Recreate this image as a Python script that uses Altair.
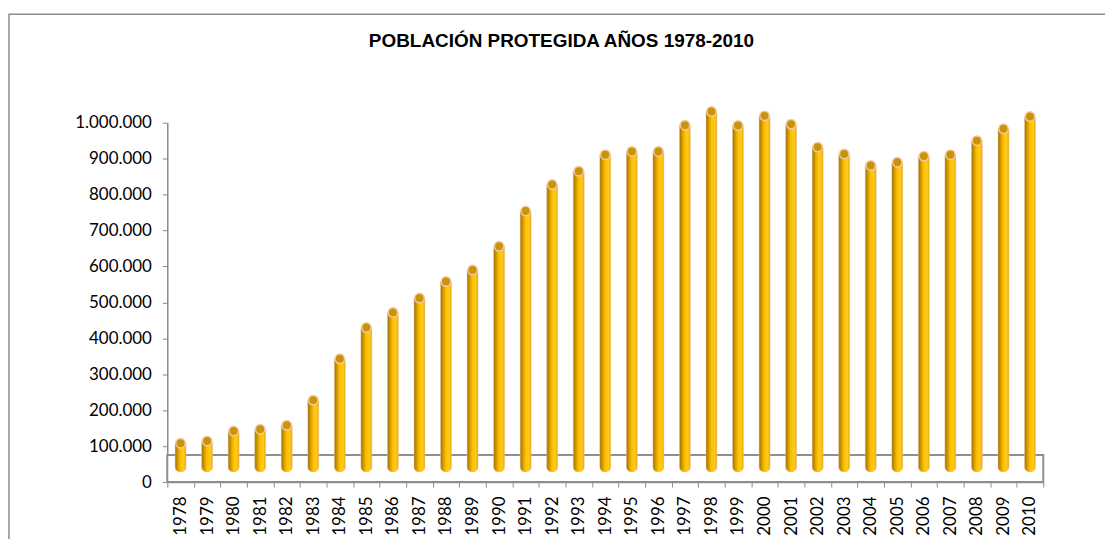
import altair as alt
import pandas as pd

years = [str(y) for y in range(1978, 2011)]
values = [108000, 114000, 142000, 147000, 158000, 228000, 343000, 430000, 472000,
          512000, 558000, 590000, 656000, 754000, 828000, 865000, 911000, 920000,
          920000, 993000, 1031000, 992000, 1019000, 996000, 932000, 913000, 881000,
          890000, 907000, 911000, 950000, 983000, 1017000]
y_ticks = [0, 100000, 200000, 300000, 400000, 500000, 600000, 700000, 800000, 900000, 1000000]
base_value = 28000
floor_value = 75000
title_text = "POBLACIÓN PROTEGIDA AÑOS 1978-2010"

df = pd.DataFrame({"year": years, "value": values, "base": [base_value] * len(years)})
floor_df = pd.DataFrame({"lo": [0], "hi": [floor_value]})

W, H = 880, 361

x_enc = alt.X("year:N", sort=years,
              scale=alt.Scale(paddingInner=0, paddingOuter=0),
              axis=alt.Axis(title=None, labelAngle=-90, labelAlign="right", labelBaseline="middle",
                            labelPadding=9, tickSize=5, tickBand="extent",
                            domainColor="#8a8a8a", tickColor="#8a8a8a", domainWidth=1.5,
                            labelFont="Lato", labelFontSize=17, labelColor="#000000"))
y_scale = alt.Scale(domain=[0, 1000000], nice=False, zero=True)
y_axis = alt.Axis(title=None, values=y_ticks, format=",d", tickSize=5, labelPadding=11,
                  domainColor="#8a8a8a", tickColor="#8a8a8a", domainWidth=1.5, grid=False,
                  labelFont="Lato", labelFontSize=17, labelColor="#000000")

floor = alt.Chart(floor_df).mark_rect(fill="white", stroke="#8f8f8f", strokeWidth=2).encode(
    x=alt.value(0), x2=alt.value(W),
    y=alt.Y("lo:Q", scale=y_scale, axis=y_axis), y2="hi:Q")

cyl = alt.Gradient(gradient="linear", x1=0, x2=1, y1=0, y2=0, stops=[
    alt.GradientStop(offset=0, color="#9c7000"),
    alt.GradientStop(offset=0.28, color="#d9a000"),
    alt.GradientStop(offset=0.5, color="#ffc000"),
    alt.GradientStop(offset=0.8, color="#ffca20"),
    alt.GradientStop(offset=1, color="#e0a400")])

bars = alt.Chart(df).mark_bar(color=cyl, width=11, cornerRadiusBottomLeft=5,
                              cornerRadiusBottomRight=5, stroke="#f3c9a0", strokeWidth=0.5).encode(
    x=x_enc,
    y=alt.Y("value:Q", scale=y_scale, axis=y_axis), y2="base:Q")

caps = alt.Chart(df).mark_point(filled=True, shape="circle", size=90, fill="#c8940a",
                                stroke="#f6c9a2", strokeWidth=1.5, opacity=1).encode(
    x=x_enc, y=alt.Y("value:Q", scale=y_scale, axis=y_axis))

frame = alt.Chart(floor_df).mark_rect(fill=None, stroke="#8c8c8c", strokeWidth=1.5).encode(
    x=alt.value(-159), x2=alt.value(1000), y=alt.value(-109), y2=alt.value(470))

chart = alt.layer(frame, floor, bars, caps).properties(
    width=W, height=H,
    autosize=alt.AutoSizeParams(type="none"),
    padding={"left": 160, "top": 114, "right": 62, "bottom": 56},
    title=alt.TitleParams(title_text, font="Liberation Sans", fontSize=19, fontWeight="bold",
                          color="#000000", anchor="middle", dx=-44, offset=-38)
).configure(
    view=alt.ViewConfig(stroke=None),
    locale=alt.Locale(number=alt.NumberLocale(decimal=",", thousands=".", grouping=[3],
                                              currency=["", "€"])))

chart.save("out.html", embed_options={"renderer": "svg", "actions": False})
